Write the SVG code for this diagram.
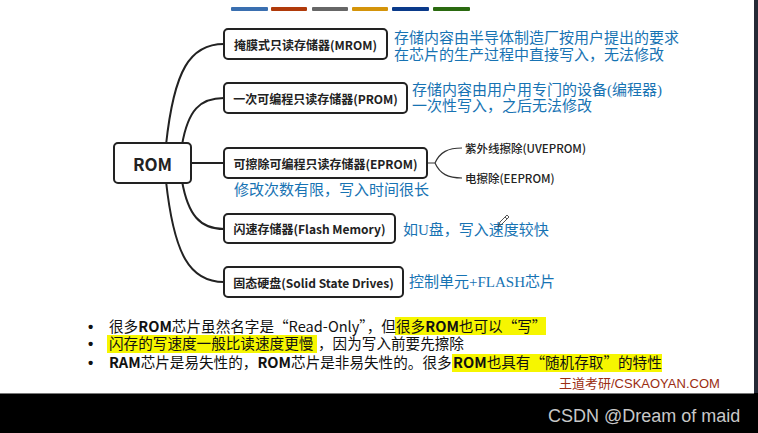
<svg xmlns="http://www.w3.org/2000/svg" width="758" height="433" viewBox="0 0 758 433">
<style>
.box{fill:#fff;stroke:#222;stroke-width:2}
.lbl{font-family:"Noto Sans CJK SC","Open Sans",sans-serif;font-weight:700;font-size:12px;fill:#222;text-anchor:middle;dominant-baseline:central}
.con{fill:none;stroke:#222;stroke-width:2}
.sub{fill:none;stroke:#333;stroke-width:1.2}
.sublbl{font-family:"Noto Sans CJK SC","Open Sans",sans-serif;font-weight:500;font-size:11.5px;fill:#222;dominant-baseline:central}
.note{font-family:"Liberation Serif","Noto Sans CJK SC",serif;font-size:15px;fill:#1773b3}
.bul{font-family:"Noto Sans CJK SC","Open Sans",sans-serif;font-size:14.6px;fill:#111}
.dot{font-family:"Liberation Sans",sans-serif;font-size:15px;font-weight:700;fill:#111}
.hl{fill:#f6f600}
</style>
<rect x="0" y="0" width="758" height="433" fill="#fff"/>
<rect x="0" y="393" width="758" height="40" fill="#000"/>
<rect x="754" y="0" width="4" height="393" fill="#252a36"/>
<line x1="0" y1="393.5" x2="754" y2="393.5" stroke="#777" stroke-width="1"/>
<g id="colorbars">
<rect x="231" y="7" width="37" height="4" rx="1" fill="#3a6fb0"/>
<rect x="271" y="7" width="36" height="4" rx="1" fill="#b03a0a"/>
<rect x="312" y="7" width="36" height="4" rx="1" fill="#666"/>
<rect x="352" y="7" width="36" height="4" rx="1" fill="#d4940a"/>
<rect x="392" y="7" width="37" height="4" rx="1" fill="#0a3a8a"/>
<rect x="433" y="7" width="37" height="4" rx="1" fill="#2a6a10"/>
</g>
<g id="connectors">
<path class="con" d="M166,145 C174,70 190,44 224,44"/>
<path class="con" d="M182,145 C188,110 200,98 224,98"/>
<path class="con" d="M191,163 H224"/>
<path class="con" d="M182,181 C188,215 200,229 224,229"/>
<path class="con" d="M166,181 C174,255 190,282 224,282"/>
<path class="sub" d="M427,163 H435 M435,163 C440,152 448,148 462,148 M435,163 C440,174 448,178 462,178"/>
</g>
<g id="rom">
<rect class="box" x="114" y="143" width="77" height="40" rx="4"/>
<text class="lbl" x="152.5" y="163" style="font-size:17px">ROM</text>
</g>
<g id="mrom">
<rect class="box" x="224" y="29" width="163" height="30" rx="4"/>
<text class="lbl" x="305.5" y="44">掩膜式只读存储器(MROM)</text>
</g>
<g id="prom">
<rect class="box" x="224" y="83" width="183" height="30" rx="4"/>
<text class="lbl" x="315.5" y="98">一次可编程只读存储器(PROM)</text>
</g>
<g id="eprom">
<rect class="box" x="224" y="148" width="203" height="30" rx="4"/>
<text class="lbl" x="325.5" y="163">可擦除可编程只读存储器(EPROM)</text>
</g>
<g id="flash">
<rect class="box" x="224" y="214" width="171" height="29" rx="4"/>
<text class="lbl" x="309.5" y="228.5">闪速存储器(Flash Memory)</text>
</g>
<g id="ssd">
<rect class="box" x="224" y="267" width="179" height="30" rx="4"/>
<text class="lbl" x="313.5" y="282">固态硬盘(Solid State Drives)</text>
</g>
<g id="uveprom"><text class="sublbl" x="465" y="148">紫外线擦除(UVEPROM)</text></g>
<g id="eeprom"><text class="sublbl" x="465" y="178">电擦除(EEPROM)</text></g>
<g id="notes">
<text class="note" x="394" y="43">存储内容由半导体制造厂按用户提出的要求</text>
<text class="note" x="394" y="60">在芯片的生产过程中直接写入，无法修改</text>
<text class="note" x="412" y="95">存储内容由用户用专门的设备(编程器)</text>
<text class="note" x="412" y="111">一次性写入，之后无法修改</text>
<text class="note" x="234" y="195">修改次数有限，写入时间很长</text>
<text class="note" x="403" y="235">如U盘，写入速度较快</text>
<text class="note" x="409" y="287">控制单元+FLASH芯片</text>
</g>
<g id="pencil" fill="none" stroke="#444" stroke-width="0.9">
<path d="M498,227 L500,222 L507,215 L509,217 L502,224 Z"/>
<path d="M505,217 L507,219"/>
</g>
<g id="bullets">
<rect class="hl" x="395" y="317" width="151" height="18"/>
<rect class="hl" x="107" y="335" width="210" height="18"/>
<rect class="hl" x="452" y="354" width="210" height="18"/>
<text class="dot" x="88" y="332">•</text>
<text class="dot" x="88" y="349">•</text>
<text class="dot" x="88" y="368">•</text>
<text class="bul" x="109" y="332">很多<tspan font-weight="700">ROM</tspan>芯片虽然名字是“Read-Only”，但</text>
<text class="bul" x="396" y="332">很多<tspan font-weight="700">ROM</tspan>也可以“写”</text>
<text class="bul" x="109" y="349">闪存的写速度一般比读速度更慢</text>
<text class="bul" x="318" y="349">，因为写入前要先擦除</text>
<text class="bul" x="109" y="368"><tspan font-weight="700">RAM</tspan>芯片是易失性的，<tspan font-weight="700">ROM</tspan>芯片是非易失性的。很多</text>
<text class="bul" x="453" y="368"><tspan font-weight="700">ROM</tspan>也具有“随机存取”的特性</text>
</g>
<text x="559" y="388" font-family="Liberation Sans,'Noto Sans CJK SC',sans-serif" font-size="13" fill="#9b2d12">王道考研/CSKAOYAN.COM</text>
<text x="548" y="422" font-family="Liberation Sans,'Noto Sans CJK SC',sans-serif" font-size="18" fill="#c8c8c8">CSDN @Dream of maid</text>
</svg>
